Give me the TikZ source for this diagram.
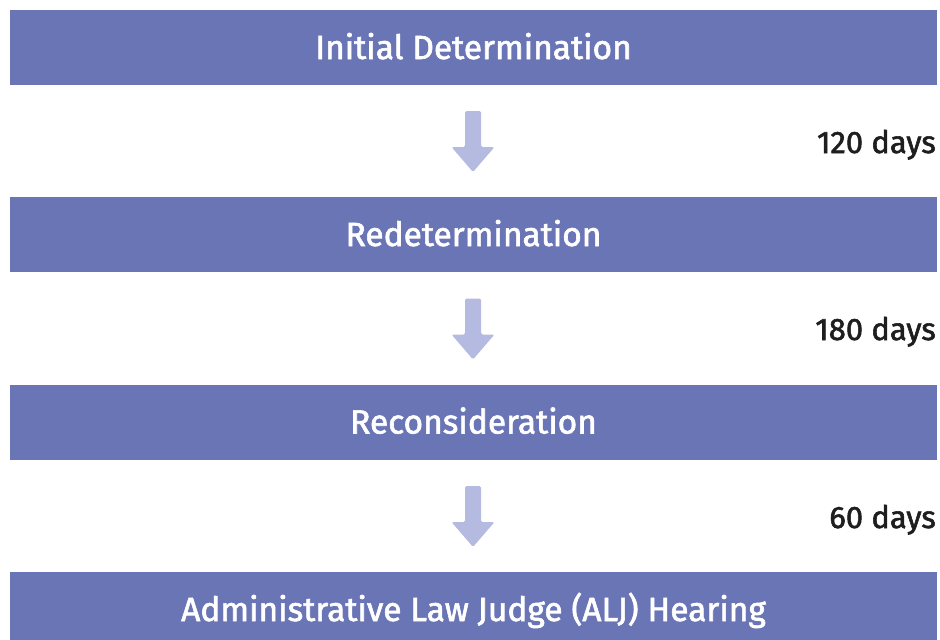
\documentclass[tikz,border=0pt]{standalone}
\usepackage{fontspec}
\setmainfont{Fira Sans}[UprightFeatures={FakeBold=1.8}]
\definecolor{stageblue}{RGB}{106,117,182}
\definecolor{arrowblue}{RGB}{180,186,224}
\definecolor{daysink}{RGB}{30,30,30}
\tikzset{
  stage/.style={fill=stageblue, text=white, minimum width=927pt, minimum height=75pt,
    inner sep=0pt, text height=23pt, text depth=0pt,
    font=\fontsize{33.5}{40}\selectfont},
  dayslabel/.style={anchor=base east, text=daysink, inner sep=0pt,
    font=\fontsize{31}{37}\selectfont},
  down arrow/.pic={
    \fill[arrowblue, rounded corners=1.5pt]
      (-8,-30.5) -- (8,-30.5) -- (8,5.5) -- (21.5,5.5) -- (0,30.5)
      -- (-21.5,5.5) -- (-8,5.5) -- cycle;
  }
}
\begin{document}
\begin{tikzpicture}[x=1pt,y=-1pt]
  \useasboundingbox (0,0) rectangle (940,640);
  % stages
  \node[stage] (s1) at (473.5,47.5)  {Initial Determination};
  \node[stage] (s2) at (473.5,234.5) {Redetermination};
  \node[stage] (s3) at (473.5,422)   {Reconsideration};
  \node[stage] (s4) at (473.5,609.5) {Administrative Law Judge (ALJ) Hearing};
  % arrows between stages
  \pic (a1) at (473,141.5) {down arrow};
  \pic (a2) at (473,329)   {down arrow};
  \pic (a3) at (473,516.5) {down arrow};
  % deadlines
  \node[dayslabel] (d1) at (936,153) {120 days};
  \node[dayslabel] (d2) at (936,340) {180 days};
  \node[dayslabel] (d3) at (936,528) {60 days};
\end{tikzpicture}
\end{document}
